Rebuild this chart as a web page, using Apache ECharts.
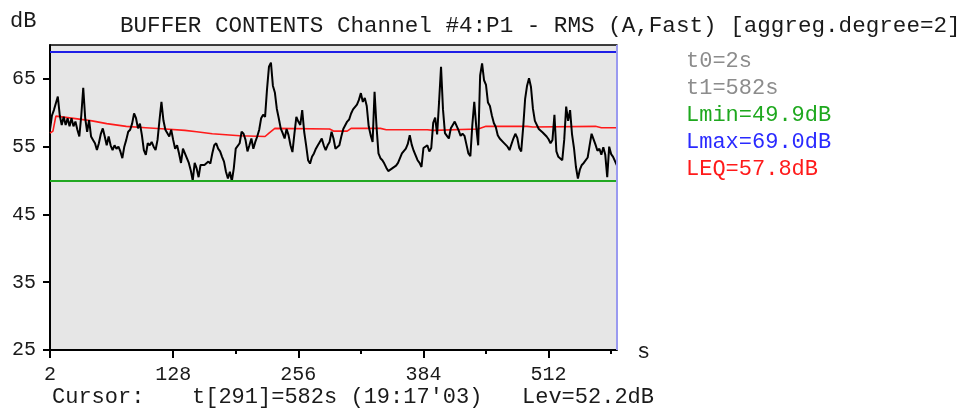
<!DOCTYPE html>
<html>
<head>
<meta charset="utf-8">
<title>Buffer contents</title>
<script src="https://cdn.jsdelivr.net/npm/echarts@6/dist/echarts.min.js"></script>
<style>
  html, body { margin: 0; padding: 0; background: #fff; }
  #chart { width: 966px; height: 412px; }
</style>
</head>
<body>
<div id="chart"></div>
<script>
// sample times: t0 = 2 s, one point every 2 s (aggreg.degree=2)
const T0 = 2;
const STEP = 2;
const T_END = 582;

// RMS level per sample, dB
const levels = [
  57.5, 59.6, 60.4, 60.2, 62.4, 59.6, 58.2, 59.4, 58.2, 59.2,
  58.0, 59.2, 58.0, 58.7, 57.5, 56.5, 59.6, 63.7, 59.2, 57.2,
  58.9, 56.5, 56.0, 55.5, 54.5, 55.5, 56.9, 57.7, 56.5, 55.2,
  56.5, 55.2, 54.5, 55.2, 54.7, 55.0, 54.3, 53.3, 55.0, 56.0,
  57.2, 57.5, 58.4, 59.9, 59.2, 57.7, 58.4, 56.7, 54.5, 53.8,
  55.5, 55.2, 55.7, 55.0, 54.5, 56.0, 58.9, 61.6, 58.9, 57.5,
  57.7, 56.5, 57.5, 56.0, 54.7, 55.2, 54.0, 52.6, 54.7, 54.0,
  53.3, 52.6, 51.5, 50.0, 52.6,
  51.8, 50.5, 52.3, 52.5, 52.3, 52.5, 52.8, 52.5, 54.0, 55.2,
  55.5, 54.7, 54.3, 53.5, 52.8, 51.3, 50.3, 51.3, 49.9, 51.8,
  54.7, 54.7, 55.5, 57.2, 56.9, 56.0, 54.3, 55.2, 56.2, 54.7,
  55.7, 56.5, 57.5, 59.2, 59.7, 59.4, 63.5, 66.8, 67.4, 64.0,
  63.0, 60.6, 59.2, 57.7, 57.0, 56.2, 57.6, 56.7, 55.2, 54.2,
  56.9, 59.4, 58.7, 58.2, 60.4, 57.2, 55.2, 53.0, 52.5, 53.5,
  54.0, 54.7, 55.2, 55.7, 56.2, 55.2, 54.5, 55.2, 55.7, 57.2,
  56.2, 54.7, 54.5,
  55.2, 56.5, 57.6, 57.4, 58.7, 59.0, 59.9, 60.5, 60.7, 61.2,
  61.9, 62.9, 61.6, 62.2, 61.0, 58.0, 56.7, 55.7, 63.1, 58.0,
  54.0, 53.3, 53.0, 52.5, 51.9, 51.4, 51.3, 51.8, 52.0, 52.2,
  52.6, 53.3, 54.0, 53.8, 54.7, 55.4, 56.7, 55.3, 54.4, 54.2,
  53.0, 52.6, 52.0, 54.8, 54.7, 55.2, 54.3, 54.8, 58.5, 59.3,
  56.8, 61.6, 66.8, 60.5, 57.0, 56.6, 56.2, 57.7, 58.2, 58.7,
  58.6, 57.4, 56.6, 56.9, 56.6, 55.3, 54.0, 53.6, 58.2, 61.6,
  58.0, 55.2, 65.5, 67.3, 64.8, 64.1, 61.5, 61.0, 59.6, 58.5,
  57.9, 56.7, 56.2, 56.0, 55.6, 55.4, 55.0, 54.5, 54.7, 56.2,
  56.9, 56.3, 54.8, 54.3, 57.8, 62.0, 64.0, 65.1, 63.8, 60.6,
  58.8, 59.0, 57.6, 57.5, 57.1, 56.8, 56.5, 56.1, 55.5, 56.0,
  59.7, 54.3, 53.5, 53.6, 53.0, 56.0, 60.9, 58.8, 60.4, 56.8,
  54.8, 52.0, 50.3, 51.6, 52.3, 52.6, 52.4, 53.4, 55.2, 56.9,
  56.7, 55.3, 54.4, 54.7, 53.8, 54.9, 53.8, 50.5, 55.0, 53.9,
  53.5, 53.7, 52.2
];

// running LEQ (red line), break points
const leqTimes = [2, 5, 8, 14, 30, 45, 60, 80, 100, 120, 140, 152, 168, 196, 222, 226,
  232, 288, 292, 306, 310, 340, 346, 388, 394, 440, 448, 490, 496, 560, 566, 582];
const leqLevels = [57.0, 57.3, 59.5, 59.4, 59.1, 58.8, 58.4, 58.0, 57.8, 57.6, 57.4, 57.2,
  56.9, 56.6, 56.5, 57.0, 57.7, 57.6, 57.3, 57.3, 57.7, 57.7, 57.5, 57.5, 57.4, 57.6,
  58.0, 58.0, 57.9, 58.0, 57.8, 57.8];

const LMIN = 49.9;
const LMAX = 69.0;
const LEQ = 57.8;
const CURSOR_T = 582;

const xMajorTicks = [2, 128, 256, 384, 512];
const xMinorTicks = [192, 320, 448, 576];
const yTicks = [25, 35, 45, 55, 65];

const MONO = '"Liberation Mono", "DejaVu Sans Mono", monospace';

const levelData = levels.map((v, i) => [T0 + i * STEP, v]);
const leqData = leqTimes.map((t, i) => [t, leqLevels[i]]);

function txt(x, y, text, color, size) {
  return {
    type: 'text', x: x, y: y, silent: true,
    style: { text: text, fill: color, font: (size || 22) + 'px ' + MONO, verticalAlign: 'middle' }
  };
}

const chart = echarts.init(document.getElementById('chart'));
chart.setOption({
  animation: false,
  grid: {
    left: 50, right: 349, top: 45, bottom: 62,
    show: true, backgroundColor: '#e6e6e6', borderWidth: 0
  },
  xAxis: [
    {
      type: 'value', min: T0, max: T_END, position: 'bottom',
      axisLine: { onZero: false, lineStyle: { color: '#000', width: 2 } },
      axisTick: { customValues: xMajorTicks, length: 8, lineStyle: { color: '#000', width: 2 } },
      axisLabel: { customValues: xMajorTicks, margin: 15, fontFamily: MONO, fontSize: 20, color: '#1a1a1a' },
      splitLine: { show: false }
    },
    {
      type: 'value', min: T0, max: T_END, position: 'bottom',
      axisLine: { show: false },
      axisTick: { customValues: xMinorTicks, length: 4, lineStyle: { color: '#000', width: 2 } },
      axisLabel: { show: false },
      splitLine: { show: false }
    },
    {
      type: 'value', min: T0, max: T_END, position: 'top',
      axisLine: { show: true, onZero: false, lineStyle: { color: '#000', width: 1.5 } },
      axisTick: { show: false },
      axisLabel: { show: false },
      splitLine: { show: false }
    }
  ],
  yAxis: {
    type: 'value', min: 25, max: 70, interval: 5,
    axisLine: { show: true, onZero: false, lineStyle: { color: '#000', width: 2 } },
    axisTick: { show: true, customValues: yTicks, length: 7, lineStyle: { color: '#000', width: 2 } },
    axisLabel: { customValues: yTicks, margin: 14, fontFamily: MONO, fontSize: 20, color: '#1a1a1a' },
    splitLine: { show: false }
  },
  series: [
    {
      name: 'LEQ', type: 'line', data: leqData, showSymbol: false, silent: true,
      lineStyle: { color: '#ff1a1a', width: 1.6 },
      markLine: {
        silent: true, symbol: 'none', label: { show: false },
        data: [
          { yAxis: LMAX, lineStyle: { color: '#1e1ee6', width: 2, type: 'solid' } },
          { yAxis: LMIN, lineStyle: { color: '#22a822', width: 2, type: 'solid' } },
          { xAxis: CURSOR_T, lineStyle: { color: '#9a9af0', width: 2, type: 'solid' } }
        ]
      }
    },
    {
      name: 'RMS', type: 'line', data: levelData, showSymbol: false, silent: true,
      lineStyle: { color: '#000', width: 2 }
    }
  ],
  graphic: [
    txt(10, 21, 'dB', '#1a1a1a'),
    txt(120, 26, 'BUFFER CONTENTS Channel #4:P1 - RMS (A,Fast) [aggreg.degree=2]', '#1a1a1a', 22.6),
    txt(686, 61, 't0=' + T0 + 's', '#8c8c8c'),
    txt(686, 88, 't1=' + T_END + 's', '#8c8c8c'),
    txt(686, 115, 'Lmin=' + LMIN.toFixed(1) + 'dB', '#1ea81e'),
    txt(686, 142, 'Lmax=' + LMAX.toFixed(1) + 'dB', '#2a2aff'),
    txt(686, 169, 'LEQ=' + LEQ.toFixed(1) + 'dB', '#ff1a1a'),
    txt(637, 352, 's', '#1a1a1a'),
    txt(52, 397, 'Cursor:', '#1a1a1a'),
    txt(192, 397, "t[291]=582s (19:17'03)", '#1a1a1a'),
    txt(522, 397, 'Lev=52.2dB', '#1a1a1a')
  ]
});
</script>
</body>
</html>
